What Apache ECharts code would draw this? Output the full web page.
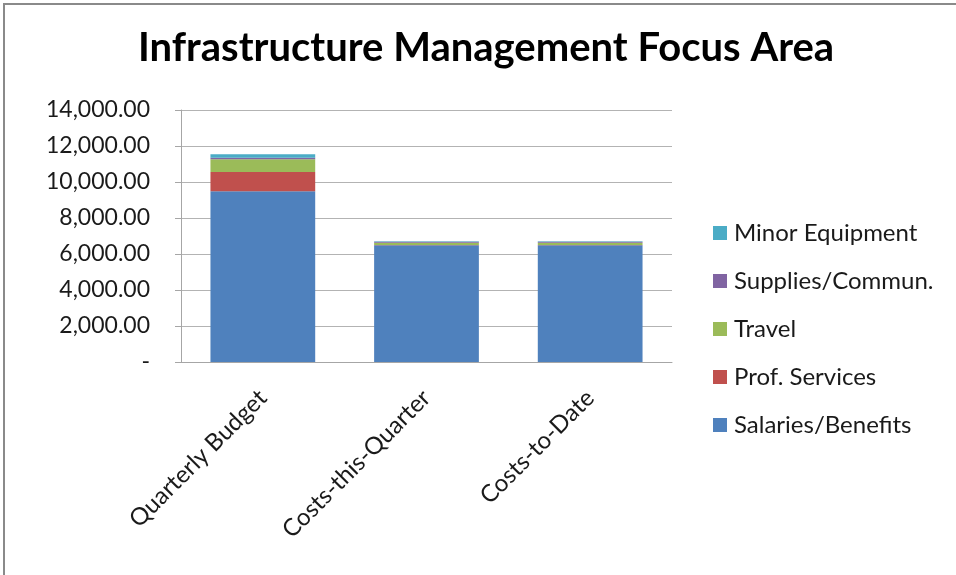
<!DOCTYPE html>
<html>
<head>
<meta charset="utf-8">
<script src="https://cdn.jsdelivr.net/npm/echarts@6/dist/echarts.min.js"></script>
<style>
  html, body { margin: 0; padding: 0; background: #fff; }
  #frame {
    position: absolute; left: 3px; top: 3px; width: 953px; height: 572px;
    border-top: 2px solid #8a8a8a; border-left: 2px solid #8a8a8a;
  }
  #chart { position: absolute; left: 0; top: 0; width: 956px; height: 575px; }
</style>
</head>
<body>
<div id="frame"></div>
<div id="chart"></div>
<script>
// categories and stacked values
const categories = ['Quarterly Budget', 'Costs-this-Quarter', 'Costs-to-Date']
const salaries = [9480, 6480, 6480]
const profServices = [1070, 20, 20]
const travel = [710, 130, 130]
const supplies = [90, 50, 50]
const minorEquip = [190, 30, 30]

const seriesNames = ['Salaries/Benefits', 'Prof. Services', 'Travel', 'Supplies/Commun.', 'Minor Equipment']
const seriesData = [salaries, profServices, travel, supplies, minorEquip]
const colors = ['#4F81BD', '#C0504D', '#9BBB59', '#8064A2', '#4BACC6']

const font = 'Lato, "Open Sans", sans-serif'

const chart = echarts.init(document.getElementById('chart'))

chart.setOption({
  animation: false,
  color: colors,
  title: {
    text: 'Infrastructure Management Focus Area',
    left: 138,
    top: 28,
    padding: 0,
    textStyle: { fontFamily: font, fontSize: 40, fontWeight: 'bold', color: '#000' }
  },
  legend: {
    orient: 'vertical',
    left: 713,
    top: 221,
    padding: 0,
    itemGap: 24,
    itemWidth: 14,
    itemHeight: 14,
    icon: 'rect',
    data: seriesNames.slice().reverse(),
    textStyle: { fontFamily: font, fontSize: 24, color: '#1a1a1a', padding: [0, 0, 0, 2] }
  },
  grid: { left: 181, top: 110, width: 491, height: 252 },
  xAxis: {
    type: 'category',
    data: categories,
    axisLine: { lineStyle: { color: '#a6a6a6' } },
    axisTick: { show: false },
    axisLabel: {
      rotate: 45,
      interval: 0,
      margin: 32,
      fontFamily: font,
      fontSize: 24,
      color: '#1a1a1a'
    }
  },
  yAxis: {
    type: 'value',
    min: 0,
    max: 14000,
    interval: 2000,
    axisLine: { show: true, lineStyle: { color: '#a6a6a6' } },
    axisTick: { show: true, length: 6, lineStyle: { color: '#a6a6a6' } },
    splitLine: { lineStyle: { color: '#b3b3b3' } },
    axisLabel: {
      margin: 31,
      fontFamily: font,
      fontSize: 23,
      color: '#1a1a1a',
      formatter: v => v === 0 ? '-' : v.toLocaleString('en-US', { minimumFractionDigits: 2, maximumFractionDigits: 2 })
    }
  },
  series: seriesNames.map((name, i) => ({
    name,
    type: 'bar',
    stack: 'total',
    barWidth: '64%',
    data: seriesData[i]
  }))
})
</script>
</body>
</html>
